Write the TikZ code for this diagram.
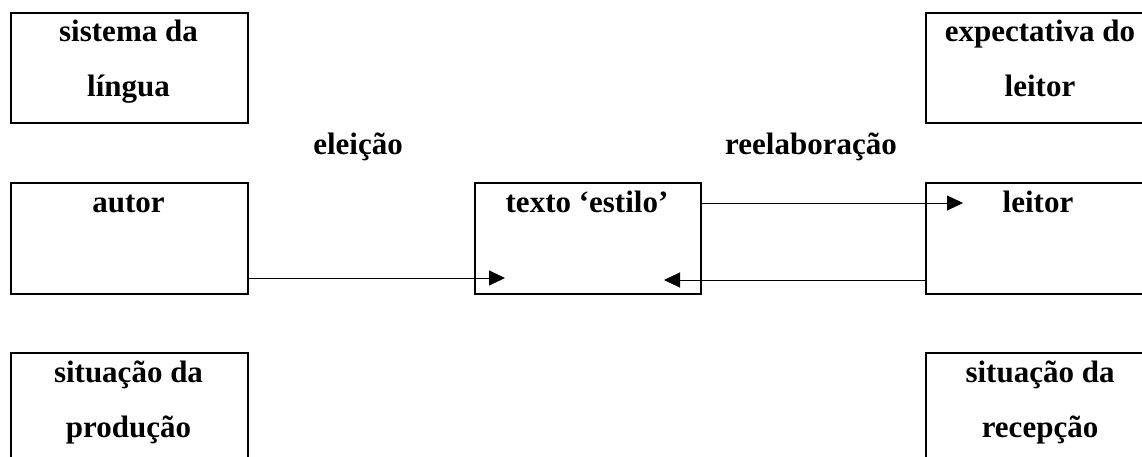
\documentclass[tikz,border=0pt]{standalone}
\usepackage{fontspec}
\setmainfont{Liberation Serif}
\usetikzlibrary{arrows.meta}
\begin{document}
\begin{tikzpicture}[x=1pt, y=-1pt,
  box/.style={draw, line width=2pt, anchor=north west, inner sep=0pt,
              minimum width=237pt, minimum height=110pt},
  lbl/.style={anchor=base, inner sep=0pt,
              font=\fontsize{31}{55}\selectfont\bfseries},
  arr/.style={line width=1pt, -{Triangle[length=16pt,width=15pt]}}]
  \useasboundingbox (0,0) rectangle (1142,457);
  \clip (0,0) rectangle (1142,457);

  % frames
  \node[box] (lingua) at (10,12) {};
  \node[box] (expect) at (925,12) {};
  \node[box, minimum height=111pt] (autor) at (10,182) {};
  \node[box, minimum width=226pt, minimum height=111pt] (texto) at (474,182) {};
  \node[box, minimum height=111pt] (leitor) at (925,182) {};
  \node[box, minimum height=130pt] (prod) at (10,352) {};
  \node[box, minimum height=130pt] (recep) at (925,352) {};

  % captions inside the frames
  \node[lbl] (tlingua) at (128.5,42) {\begin{tabular}[t]{@{}c@{}}sistema da\\língua\end{tabular}};
  \node[lbl] (texpect) at (1040,42) {\begin{tabular}[t]{@{}c@{}}expectativa do\\leitor\end{tabular}};
  \node[lbl] (tautor) at (128.5,212) {autor};
  \node[lbl] (ttexto) at (587,212) {texto ‘estilo’};
  \node[lbl] (tleitor) at (1038,212) {leitor};
  \node[lbl] (tprod) at (128.5,382) {\begin{tabular}[t]{@{}c@{}}situação da\\produção\end{tabular}};
  \node[lbl] (trecep) at (1040,382) {\begin{tabular}[t]{@{}c@{}}situação da\\recepção\end{tabular}};

  % free labels
  \node[lbl] (eleicao) at (358,155) {eleição};
  \node[lbl] (reelab) at (811,155) {reelaboração};

  % connectors
  \draw[arr] ([yshift=17pt]autor.south east) -- ([yshift=17pt,xshift=31pt]texto.south west);
  \draw[arr] ([yshift=-21pt]texto.north east) -- ([yshift=-21pt,xshift=38pt]leitor.north west);
  \draw[arr] ([yshift=15pt]leitor.south west) -- ([yshift=15pt,xshift=-38pt]texto.south east);
\end{tikzpicture}
\end{document}
